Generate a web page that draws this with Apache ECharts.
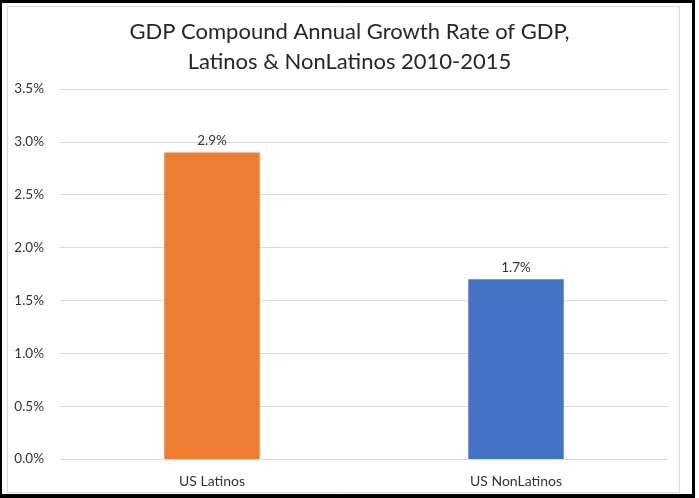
<!DOCTYPE html>
<html>
<head>
<meta charset="utf-8">
<script src="https://cdn.jsdelivr.net/npm/echarts@6/dist/echarts.min.js"></script>
<style>
  html, body { margin: 0; padding: 0; background: #fff; }
  #chart { width: 699px; height: 498px; }
</style>
</head>
<body>
<div id="chart"></div>
<script>
// Compound annual GDP growth, 2010-2015
const categories = ['US Latinos', 'US NonLatinos'];
const growthRates = [2.9, 1.7];
const barColors = ['#ED7D31', '#4472C4'];
const yTicks = [0, 0.5, 1.0, 1.5, 2.0, 2.5, 3.0, 3.5];

const FONT = 'Lato, "Open Sans", sans-serif';
const TEXT = '#333333';

const chart = echarts.init(document.getElementById('chart'), null, { renderer: 'canvas' });

chart.setOption({
  animation: false,
  backgroundColor: '#ffffff',
  title: {
    text: 'GDP Compound Annual Growth Rate of GDP,\nLatinos & NonLatinos 2010-2015',
    left: 'center',
    top: 12,
    textStyle: { fontFamily: FONT, fontSize: 22, fontWeight: 'normal', color: '#262626', lineHeight: 30 }
  },
  grid: { left: 60, right: 31, top: 89, bottom: 39, containLabel: false },
  xAxis: {
    type: 'category',
    data: categories,
    axisLine: { show: true, lineStyle: { color: '#d9d9d9', width: 1 } },
    axisTick: { show: false },
    axisLabel: { fontFamily: FONT, fontSize: 14, color: TEXT, margin: 15 }
  },
  yAxis: {
    type: 'value',
    min: yTicks[0],
    max: yTicks[yTicks.length - 1],
    interval: 0.5,
    axisLine: { show: false },
    axisTick: { show: false },
    splitLine: { lineStyle: { color: '#d9d9d9', width: 1 } },
    axisLabel: {
      fontFamily: FONT, fontSize: 13.5, color: TEXT, margin: 16,
      formatter: v => v.toFixed(1) + '%'
    }
  },
  series: [{
    type: 'bar',
    data: growthRates.map((v, i) => ({ value: v, itemStyle: { color: barColors[i] } })),
    barWidth: '31.4%',
    label: {
      show: true,
      position: 'top',
      distance: 5,
      fontFamily: FONT, fontSize: 13.5, color: TEXT,
      formatter: p => p.value.toFixed(1) + '%'
    }
  }],
  graphic: [
    // inner chart-area frame
    { type: 'rect', shape: { x: 7.5, y: 6.5, width: 672, height: 486 },
      style: { fill: 'none', stroke: '#d9d9d9', lineWidth: 1 }, silent: true },
    // outer black frame
    { type: 'rect', shape: { x: 0, y: 0, width: 695, height: 3 }, style: { fill: '#000' }, silent: true },
    { type: 'rect', shape: { x: 0, y: 0, width: 2, height: 498 }, style: { fill: '#000' }, silent: true },
    { type: 'rect', shape: { x: 692, y: 0, width: 3, height: 498 }, style: { fill: '#000' }, silent: true },
    { type: 'rect', shape: { x: 0, y: 494, width: 695, height: 4 }, style: { fill: '#000' }, silent: true }
  ]
});
</script>
</body>
</html>
